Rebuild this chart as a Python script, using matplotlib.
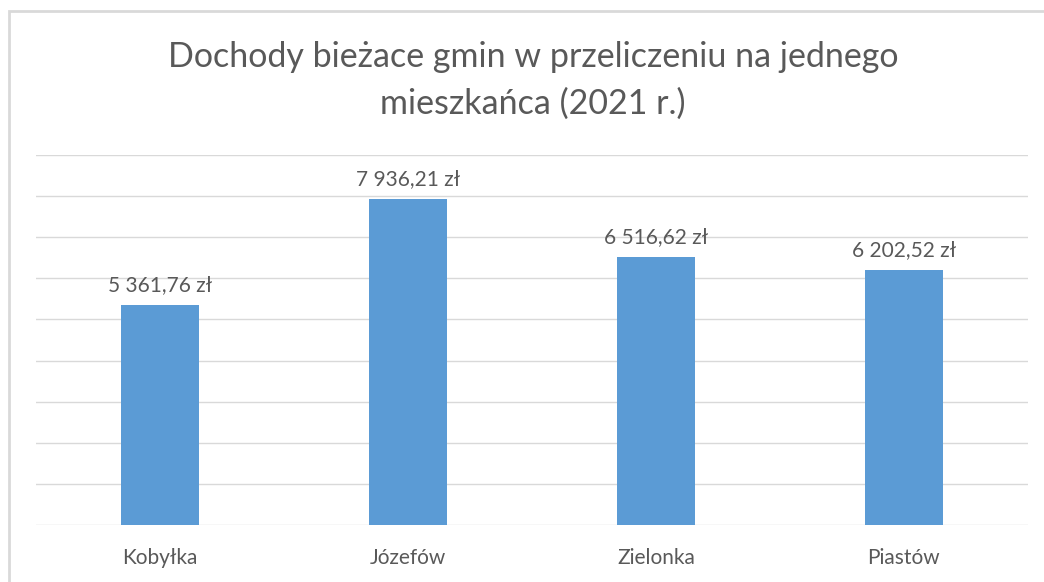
import matplotlib.pyplot as plt
from matplotlib.patches import Rectangle

# Data
gminy = ['Kobyłka', 'Józefów', 'Zielonka', 'Piastów']
dochody = [5361.76, 7936.21, 6516.62, 6202.52]
title = 'Dochody bieżace gmin w przeliczeniu na jednego\nmieszkańca (2021 r.)'

BAR_COLOR = '#5B9BD5'
TEXT_COLOR = '#595959'
GRID_COLOR = '#D9D9D9'

plt.rcParams['font.family'] = ['Lato', 'DejaVu Sans']


def fmt_pln(v):
    whole, frac = f'{v:.2f}'.split('.')
    whole = f'{int(whole):,}'.replace(',', ' ')
    return f'{whole},{frac} zł'


fig = plt.figure(figsize=(10.44, 5.82), dpi=100)
ax = fig.add_axes([0.0345, 0.0979, 0.950, 0.6357])

x = range(len(gminy))
bars = ax.bar(x, dochody, width=0.315, color=BAR_COLOR, zorder=3)

ax.set_xlim(-0.5, len(gminy) - 0.5)
ax.set_ylim(0, 9000)
ax.set_yticks(range(0, 9001, 1000))
ax.yaxis.grid(True, color=GRID_COLOR, linewidth=1.0, zorder=0)
ax.tick_params(axis='y', left=False, labelleft=False)
ax.tick_params(axis='x', bottom=False, labelsize=15, labelcolor=TEXT_COLOR, pad=13)
ax.set_xticks(list(x))
ax.set_xticklabels(gminy)
for s in ax.spines.values():
    s.set_visible(False)

for b, v in zip(bars, dochody):
    ax.annotate(fmt_pln(v), (b.get_x() + b.get_width() / 2, v),
                xytext=(0, 7), textcoords='offset points',
                ha='center', va='bottom', fontsize=15, color=TEXT_COLOR)

fig.text(0.5105, 0.862, title, ha='center', va='center', fontsize=24.5,
         color=TEXT_COLOR, linespacing=1.56)

# chart area border (left and top visible in reference)
fig.patches.append(Rectangle((9 / 1044, -0.05), 1.2, 1 - 11 / 582 + 0.05,
                             transform=fig.transFigure, fill=False,
                             edgecolor=GRID_COLOR, linewidth=2))

fig.savefig('out.png', dpi=100)
